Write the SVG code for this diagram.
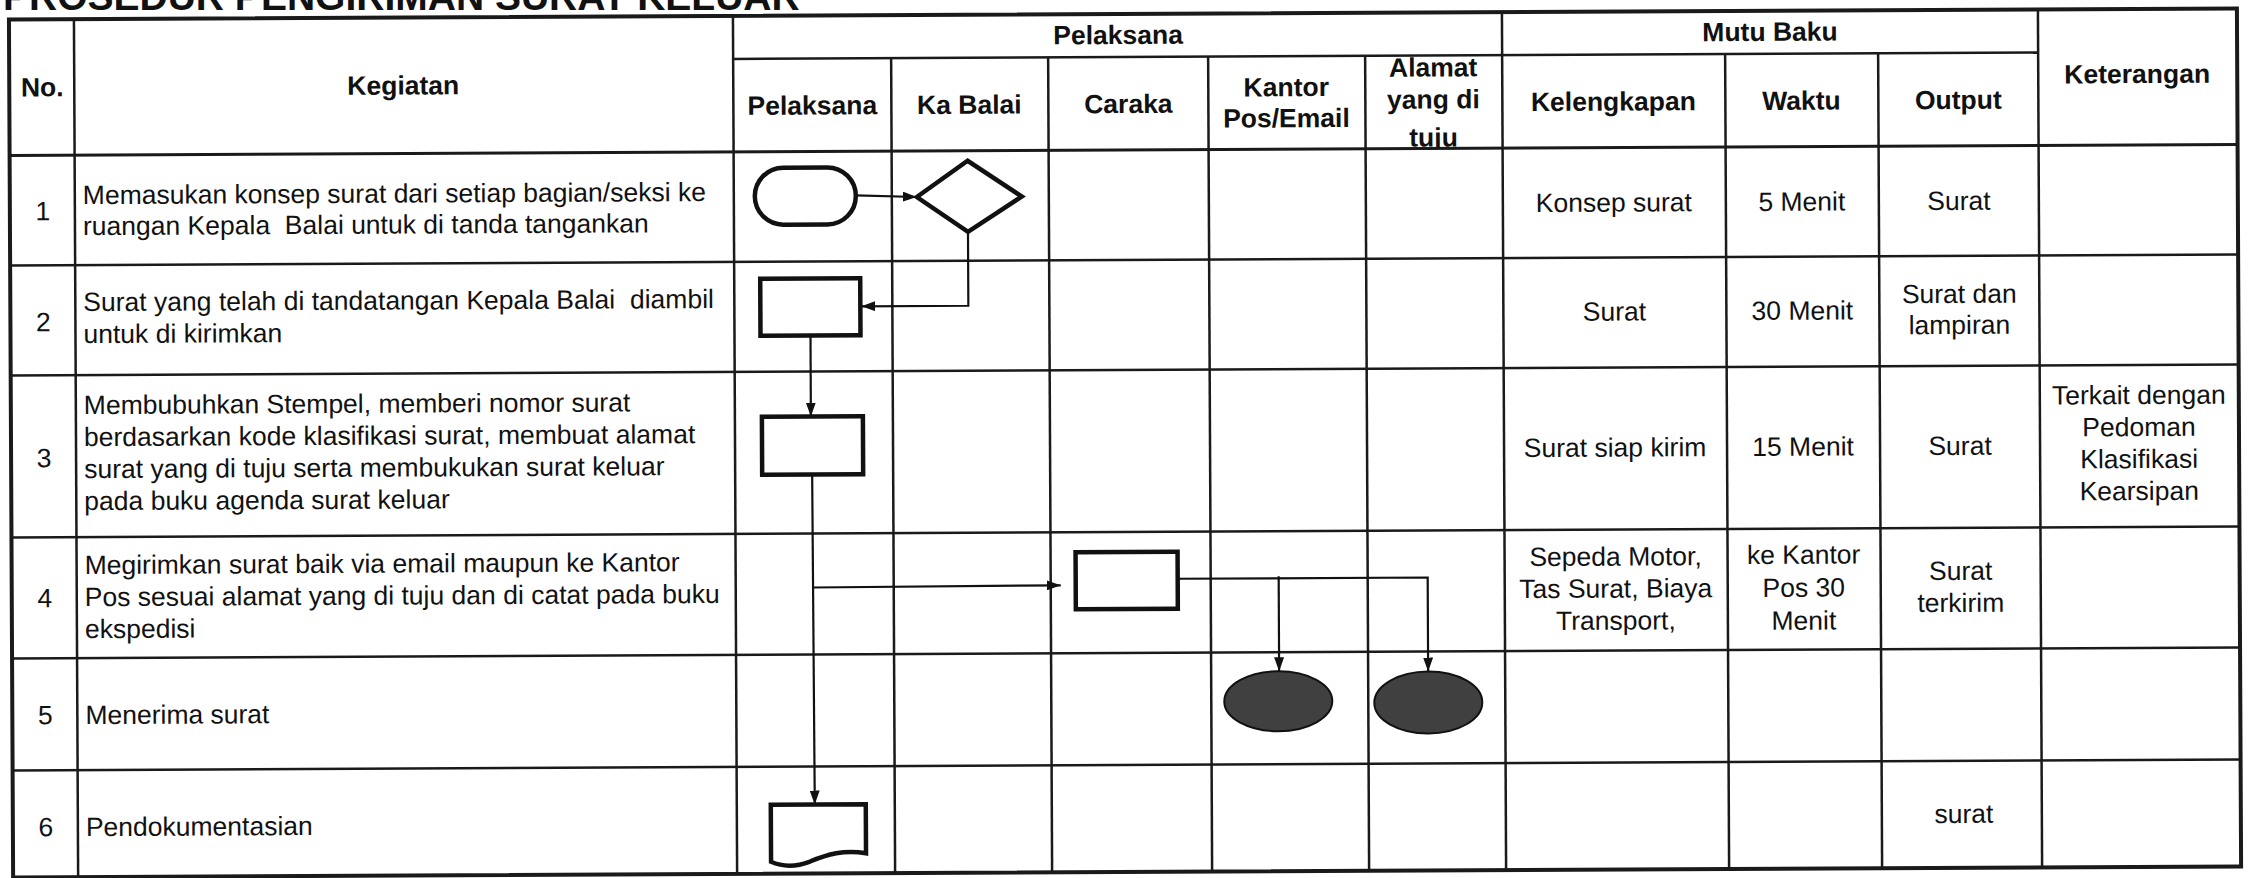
<svg xmlns="http://www.w3.org/2000/svg" width="2249" height="878" viewBox="0 0 2249 878">
<style>
.t{font-family:"Liberation Sans",Arial,sans-serif;font-size:26.5px;fill:#111}
.b{font-weight:bold}
.m{text-anchor:middle}
.grid line{stroke:#1a1a1a;stroke-width:2.5}
.outer{fill:none;stroke:#1a1a1a;stroke-width:4}
.shape{fill:#fff;stroke:#111;stroke-width:4.5}
.conn{fill:none;stroke:#111;stroke-width:2.2}
.dark{fill:#404040;stroke:#111;stroke-width:2}
</style>
<defs>
<marker id="arr" markerUnits="userSpaceOnUse" markerWidth="14" markerHeight="10" refX="14" refY="5" orient="auto">
<path d="M0,0 L14,5 L0,10 Z" fill="#111"/>
</marker>
<clipPath id="clipAlamat"><rect x="1367" y="57" width="137" height="92"/></clipPath>
</defs>
<rect width="2249" height="878" fill="#fff"/>
<text class="t b" x="3" y="10" style="font-size:39px">PROSEDUR PENGIRIMAN SURAT KELUAR</text>
<g transform="rotate(-0.28 1124 439)">
<g id="table" class="grid">
<rect class="outer" x="11" y="14" width="2228" height="858"/>
<line x1="76" y1="14" x2="76" y2="872"/>
<line x1="735" y1="14" x2="735" y2="872"/>
<line x1="893" y1="57" x2="893" y2="872"/>
<line x1="1050" y1="57" x2="1050" y2="872"/>
<line x1="1210" y1="57" x2="1210" y2="872"/>
<line x1="1367" y1="57" x2="1367" y2="872"/>
<line x1="1504" y1="14" x2="1504" y2="872"/>
<line x1="1727" y1="57" x2="1727" y2="872"/>
<line x1="1880" y1="57" x2="1880" y2="872"/>
<line x1="2040" y1="14" x2="2040" y2="872"/>
<line x1="735" y1="57" x2="2040" y2="57"/>
<line x1="11" y1="150" x2="2239" y2="150" style="stroke-width:3"/>
<line x1="11" y1="260" x2="2239" y2="260"/>
<line x1="11" y1="370" x2="2239" y2="370"/>
<line x1="11" y1="532" x2="2239" y2="532"/>
<line x1="11" y1="653" x2="2239" y2="653"/>
<line x1="11" y1="765" x2="2239" y2="765"/>
</g>
<g id="header">
<text class="t b m" x="44" y="91">No.</text>
<text class="t b m" x="405" y="91">Kegiatan</text>
<text class="t b m" x="1120" y="44">Pelaksana</text>
<text class="t b m" x="1772" y="44">Mutu Baku</text>
<text class="t b m" x="2139" y="88">Keterangan</text>
<text class="t b m" x="814" y="113">Pelaksana</text>
<text class="t b m" x="971" y="113">Ka Balai</text>
<text class="t b m" x="1130" y="113">Caraka</text>
<text class="t b m" x="1288" y="97">Kantor</text>
<text class="t b m" x="1288" y="128">Pos/Email</text>
<g clip-path="url(#clipAlamat)">
<text class="t b m" x="1435" y="78">Alamat</text>
<text class="t b m" x="1435" y="110">yang di</text>
<text class="t b m" x="1435" y="148">tuju</text>
</g>
<text class="t b m" x="1615" y="113">Kelengkapan</text>
<text class="t b m" x="1803" y="113">Waktu</text>
<text class="t b m" x="1960" y="113">Output</text>
</g>
<g id="row1">
<text class="t m" x="44" y="215">1</text>
<text class="t" x="84" y="199" xml:space="preserve">Memasukan konsep surat dari setiap bagian/seksi ke</text>
<text class="t" x="84" y="230" xml:space="preserve">ruangan Kepala  Balai untuk di tanda tangankan</text>
<text class="t m" x="1615" y="214">Konsep surat</text>
<text class="t m" x="1803" y="214">5 Menit</text>
<text class="t m" x="1960" y="214">Surat</text>
</g>
<g id="row2">
<text class="t m" x="44" y="326">2</text>
<text class="t" x="84" y="306" xml:space="preserve">Surat yang telah di tandatangan Kepala Balai  diambil</text>
<text class="t" x="84" y="338">untuk di kirimkan</text>
<text class="t m" x="1615" y="323">Surat</text>
<text class="t m" x="1803" y="323">30 Menit</text>
<text class="t m" x="1960" y="307">Surat dan</text>
<text class="t m" x="1960" y="338">lampiran</text>
</g>
<g id="row3">
<text class="t m" x="44" y="462">3</text>
<text class="t" x="84" y="409">Membubuhkan Stempel, memberi nomor surat</text>
<text class="t" x="84" y="441">berdasarkan kode klasifikasi surat, membuat alamat</text>
<text class="t" x="84" y="473">surat yang di tuju serta membukukan surat keluar</text>
<text class="t" x="84" y="505">pada buku agenda surat keluar</text>
<text class="t m" x="1615" y="459">Surat siap kirim</text>
<text class="t m" x="1803" y="459">15 Menit</text>
<text class="t m" x="1960" y="459">Surat</text>
<text class="t m" x="2139" y="409">Terkait dengan</text>
<text class="t m" x="2139" y="441">Pedoman</text>
<text class="t m" x="2139" y="473">Klasifikasi</text>
<text class="t m" x="2139" y="505">Kearsipan</text>
</g>
<g id="row4">
<text class="t m" x="44" y="602">4</text>
<text class="t" x="84" y="569">Megirimkan surat baik via email maupun ke Kantor</text>
<text class="t" x="84" y="601">Pos sesuai alamat yang di tuju dan di catat pada buku</text>
<text class="t" x="84" y="633">ekspedisi</text>
<text class="t m" x="1615" y="568">Sepeda Motor,</text>
<text class="t m" x="1615" y="600">Tas Surat, Biaya</text>
<text class="t m" x="1615" y="632">Transport,</text>
<text class="t m" x="1803" y="567">ke Kantor</text>
<text class="t m" x="1803" y="600">Pos 30</text>
<text class="t m" x="1803" y="633">Menit</text>
<text class="t m" x="1960" y="584">Surat</text>
<text class="t m" x="1960" y="616">terkirim</text>
</g>
<g id="row5">
<text class="t m" x="44" y="719">5</text>
<text class="t" x="84" y="719">Menerima surat</text>
</g>
<g id="row6">
<text class="t m" x="44" y="831">6</text>
<text class="t" x="84" y="831">Pendokumentasian</text>
<text class="t m" x="1962" y="827">surat</text>
</g>
<g id="connectors">
<line class="conn" x1="857" y1="194" x2="918" y2="196" marker-end="url(#arr)"/>
<polyline class="conn" points="969,231 969,305 862,305" marker-end="url(#arr)"/>
<line class="conn" x1="811" y1="334" x2="811" y2="415" marker-end="url(#arr)"/>
<line class="conn" x1="812" y1="473" x2="813" y2="803" marker-end="url(#arr)"/>
<line class="conn" x1="812" y1="586" x2="1060" y2="585" marker-end="url(#arr)"/>
<polyline class="conn" points="1177,579 1427,579 1427,673" marker-end="url(#arr)"/>
<line class="conn" x1="1278" y1="577" x2="1278" y2="672" marker-end="url(#arr)"/>
</g>
<g id="n-start"><rect class="shape" x="756" y="166" width="101" height="57" rx="28.5"/></g>
<g id="n-decision"><polygon class="shape" points="918,196 969,160 1023,196 969,231"/></g>
<g id="n-ambil"><rect class="shape" x="761" y="277" width="100" height="57"/></g>
<g id="n-stempel"><rect class="shape" x="762" y="415" width="101" height="58"/></g>
<g id="n-kirim"><rect class="shape" x="1075" y="552" width="102" height="57"/></g>
<g id="n-kantor"><ellipse class="dark" cx="1277" cy="702" rx="54" ry="30"/></g>
<g id="n-alamat"><ellipse class="dark" cx="1427" cy="704" rx="54" ry="31"/></g>
<g id="n-dokumen"><path class="shape" d="M769,803 H864 V852 C842,848 825,853 808,860 C792,866 780,865 769,860 Z"/></g>
</g>
</svg>
